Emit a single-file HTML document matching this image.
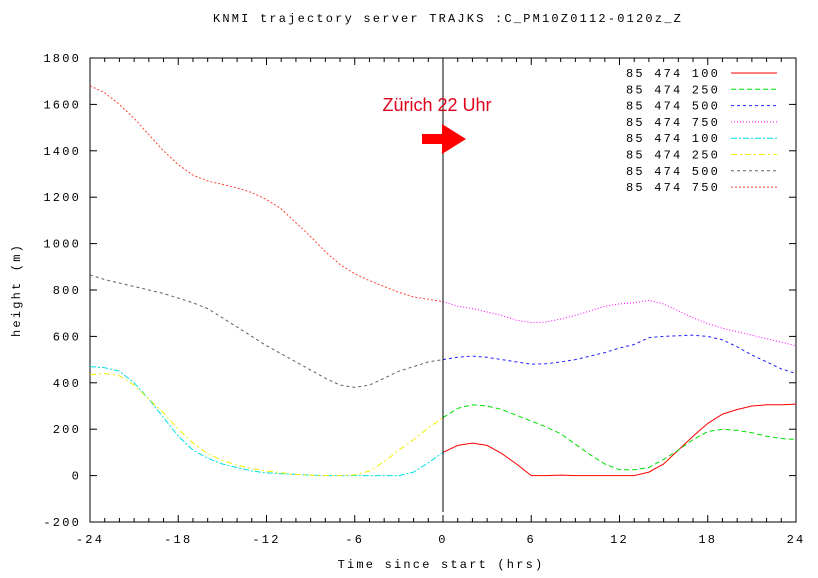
<!DOCTYPE html>
<html><head><meta charset="utf-8"><style>
body{margin:0;background:#fff;}
svg text{font-family:"Liberation Mono",monospace;font-size:12px;fill:#000;letter-spacing:2.2px;}
</style></head><body>
<svg id="c" width="818" height="573" xmlns="http://www.w3.org/2000/svg">
<text x="448" y="22" text-anchor="middle">KNMI trajectory server TRAJKS :C_PM10Z0112-0120z_Z</text>
<text x="441" y="568" text-anchor="middle">Time since start (hrs)</text>
<text transform="translate(20,290) rotate(-90)" text-anchor="middle">height (m)</text>
<g id="axes"></g><g id="series"></g><g id="legend"></g>
<line x1="443" y1="58" x2="443" y2="512" stroke="#000" stroke-width="1"/>
<text x="437" y="111" text-anchor="middle" style="font-family:'Liberation Sans',sans-serif;font-size:18px;fill:#e0001a;letter-spacing:0">Zürich 22 Uhr</text>
<polygon points="422,134 442,134 442,124 466,139 442,154 442,144 422,144" fill="#ff0000"/>
</svg>
<script>
const hoursNeg=[-24,-23,-22,-21,-20,-19,-18,-17,-16,-15,-14,-13,-12,-11,-10,-9,-8,-7,-6,-5,-4,-3,-2,-1,0];
const hoursPos=[0,1,2,3,4,5,6,7,8,9,10,11,12,13,14,15,16,17,18,19,20,21,22,23,24];
const redVals=[100,130,140,130,95,50,0,0,2,0,0,0,0,0,15,50,110,170,225,265,285,300,305,305,308];
const greenVals=[250,290,305,300,285,260,235,210,180,135,90,50,25,25,35,70,110,155,190,200,195,185,170,160,155];
const blueVals=[500,510,515,510,500,490,480,482,490,500,515,530,550,565,595,600,603,605,600,585,555,520,490,460,440];
const magentaVals=[750,730,720,705,690,670,660,662,675,690,710,730,740,745,755,740,710,680,655,635,620,605,590,575,560];
const cyanVals=[470,465,450,400,330,250,170,110,75,50,35,20,12,8,5,2,0,0,0,0,0,0,15,55,100];
const yellowVals=[435,440,430,390,330,270,200,140,95,65,45,30,20,12,5,2,0,0,3,20,60,110,155,205,250];
const greyVals=[865,845,830,815,800,785,765,745,720,680,640,600,560,525,490,455,420,390,380,390,420,450,470,490,500];
const orangeVals=[1680,1650,1600,1540,1470,1400,1340,1295,1270,1255,1240,1220,1190,1150,1090,1030,965,910,870,840,815,790,770,760,750];
const xTicks=[-24,-18,-12,-6,0,6,12,18,24];
const yTicks=[-200,0,200,400,600,800,1000,1200,1400,1600,1800];
const legendLabels=["85 474 100","85 474 250","85 474 500","85 474 750","85 474 100","85 474 250","85 474 500","85 474 750"];
const L=90,R=796,T=58,B=522;
const xs=v=>L+(v+24)/48*(R-L);
const ys=v=>B-(v+200)/2000*(B-T);
const NS="http://www.w3.org/2000/svg";
function mk(tag,attrs,parent){const e=document.createElementNS(NS,tag);for(const k in attrs)e.setAttribute(k,attrs[k]);parent.appendChild(e);return e;}
const ax=document.getElementById('axes');
const frame=mk('rect',{x:L,y:T,width:R-L,height:B-T,fill:'none',stroke:'#000','stroke-width':1},ax);


for(let h=-24;h<=24;h++){const big=h%6===0;const len=big?7:4;
 mk('line',{x1:xs(h),x2:xs(h),y1:B,y2:B-len,stroke:'#000'},ax);
 mk('line',{x1:xs(h),x2:xs(h),y1:T,y2:T+len,stroke:'#000'},ax);}
xTicks.forEach(t=>{const e=mk('text',{x:xs(t),y:B+21,'text-anchor':'middle'},ax);e.textContent=t;
 
 });
yTicks.forEach(t=>{mk('line',{x1:L,x2:L+7,y1:ys(t),y2:ys(t),stroke:'#000'},ax);mk('line',{x1:R,x2:R-7,y1:ys(t),y2:ys(t),stroke:'#000'},ax);
 const e=mk('text',{x:L-9,y:ys(t)+4,'text-anchor':'end'},ax);e.textContent=t;
 
 });
const series=[
 {h:hoursPos,v:redVals,c:'#ff0000',d:'',n:'series-red-100'},
 {h:hoursPos,v:greenVals,c:'#00e000',d:'5,3',n:'series-green-250'},
 {h:hoursPos,v:blueVals,c:'#2020ff',d:'3,3',n:'series-blue-500'},
 {h:hoursPos,v:magentaVals,c:'#ff00ff',d:'1,2',n:'series-magenta-750'},
 {h:hoursNeg,v:cyanVals,c:'#00e0e0',d:'6,2,2,2',n:'series-cyan-100'},
 {h:hoursNeg,v:yellowVals,c:'#f0f000',d:'6,3,2,3',n:'series-yellow-250'},
 {h:hoursNeg,v:greyVals,c:'#606060',d:'3,3',n:'series-grey-500'},
 {h:hoursNeg,v:orangeVals,c:'#ff4030',d:'2,2',n:'series-orange-750'}];
const sg=document.getElementById('series'),lg=document.getElementById('legend');
series.forEach((s,i)=>{
 const pts=s.h.map((h,j)=>xs(h).toFixed(1)+','+ys(s.v[j]).toFixed(1)).join(' ');
 const p=mk('polyline',{points:pts,fill:'none',stroke:s.c,'stroke-width':1,'stroke-dasharray':s.d},sg);
 
 
 const y=73+i*16.3;
 const t=mk('text',{x:720,y:y+4,'text-anchor':'end'},lg);t.textContent=legendLabels[i];
 
 
 mk('line',{x1:731,x2:777,y1:y,y2:y,stroke:s.c,'stroke-dasharray':s.d},lg);
});
</script>
</body></html>
